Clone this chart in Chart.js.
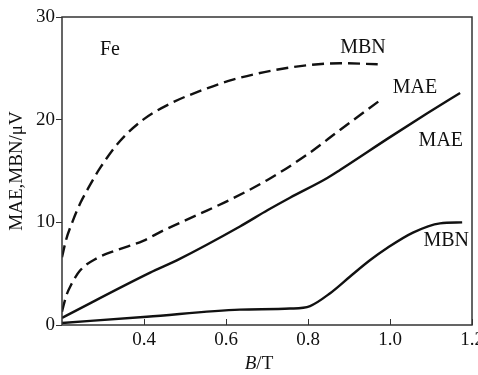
<!DOCTYPE html>
<html>
<head>
<meta charset="utf-8">
<script src="https://cdn.jsdelivr.net/npm/chart.js@4/dist/chart.umd.min.js"></script>
<style>
html,body{margin:0;padding:0;background:#fff;}
canvas{display:block;}
#fl{position:absolute;left:-999px;top:0;font-family:"Liberation Serif";font-size:20px;}
#fl i{font-style:italic;}
</style>
</head>
<body>
<div id="fl">Fe MBN MAE 0.4 <i>B</i>/T μV</div>
<canvas id="c" width="478" height="375"></canvas>
<script>
// B / T values and signal values (µV)
const mbnDashedX = [0.2, 0.21, 0.225, 0.245, 0.265, 0.293, 0.341, 0.398, 0.471, 0.537, 0.617, 0.715, 0.798, 0.878, 0.97];
const mbnDashedY = [6.6, 8.3, 10.0, 11.9, 13.4, 15.3, 17.9, 20.0, 21.7, 22.8, 23.9, 24.8, 25.3, 25.5, 25.4];

const maeDashedX = [0.2, 0.21, 0.222, 0.244, 0.285, 0.334, 0.398, 0.447, 0.529, 0.61, 0.70, 0.798, 0.878, 0.983];
const maeDashedY = [1.3, 2.8, 3.9, 5.3, 6.5, 7.3, 8.2, 9.2, 10.7, 12.2, 14.1, 16.6, 19.0, 22.1];

const maeSolidX = [0.2, 0.415, 0.48, 0.634, 0.702, 0.756, 0.846, 0.878, 1.0, 1.09, 1.171];
const maeSolidY = [0.7, 5.1, 6.3, 9.6, 11.2, 12.4, 14.3, 15.1, 18.3, 20.6, 22.6];

const mbnSolidX = [0.2, 0.407, 0.634, 0.756, 0.805, 0.854, 0.902, 0.951, 0.993, 1.056, 1.122, 1.176];
const mbnSolidY = [0.2, 0.8, 1.5, 1.6, 1.85, 3.1, 4.7, 6.3, 7.5, 9.0, 9.9, 10.0];

const xTicks = [0.4, 0.6, 0.8, 1.0, 1.2];
const yTicks = [0, 10, 20, 30];

const noteTexts = ['Fe', 'MBN', 'MAE', 'MAE', 'MBN'];
const noteX = [0.317, 0.934, 1.061, 1.124, 1.137];
const noteY = [26.8, 27.0, 23.1, 17.9, 8.2];

const xTitleItalic = 'B';
const xTitleRest = '/T';
const yTitle = 'MAE,MBN/μV';

const pts = (xs, ys) => xs.map((x, i) => ({x: x, y: ys[i]}));
const serif = '"Liberation Serif", "DejaVu Serif", serif';

const lineDs = (label, xs, ys, dash) => ({
  label: label,
  data: pts(xs, ys),
  borderColor: '#111',
  borderWidth: 2.4,
  borderDash: dash,
  pointRadius: 0,
  fill: false,
  showLine: true,
  cubicInterpolationMode: 'monotone'
});

const framePlugin = {
  id: 'frame',
  afterDatasetsDraw(chart) {
    const ctx = chart.ctx, a = chart.chartArea;
    const xs = chart.scales.x, ys = chart.scales.y;
    ctx.save();
    ctx.strokeStyle = '#333';
    ctx.lineWidth = 1.5;
    ctx.strokeRect(a.left, a.top, a.right - a.left, a.bottom - a.top);
    // inward ticks on x axis
    ctx.lineWidth = 1;
    xTicks.forEach(v => {
      const px = Math.round(xs.getPixelForValue(v)) + 0.5;
      ctx.beginPath();
      ctx.moveTo(px, a.bottom);
      ctx.lineTo(px, a.bottom - 6);
      ctx.stroke();
    });
    // annotations
    ctx.fillStyle = '#111';
    ctx.font = '20px ' + serif;
    ctx.textAlign = 'center';
    ctx.textBaseline = 'middle';
    noteTexts.forEach((t, i) => {
      ctx.fillText(t, xs.getPixelForValue(noteX[i]), ys.getPixelForValue(noteY[i]));
    });
    // x axis title with italic B
    const cx = (a.left + a.right) / 2 - 8;
    const ty = 364;
    ctx.textAlign = 'left';
    ctx.font = 'italic 19px ' + serif;
    const w1 = ctx.measureText(xTitleItalic).width;
    ctx.font = '19px ' + serif;
    const w2 = ctx.measureText(xTitleRest).width;
    const x0 = cx - (w1 + w2) / 2;
    ctx.font = 'italic 19px ' + serif;
    ctx.fillText(xTitleItalic, x0, ty);
    ctx.font = '19px ' + serif;
    ctx.fillText(xTitleRest, x0 + w1, ty);
    ctx.restore();
  }
};

function build() {
  new Chart(document.getElementById('c'), {
    type: 'scatter',
    data: {
      datasets: [
        lineDs('MBN dashed', mbnDashedX, mbnDashedY, [12, 6]),
        lineDs('MAE dashed', maeDashedX, maeDashedY, [12, 6]),
        lineDs('MAE', maeSolidX, maeSolidY, []),
        lineDs('MBN', mbnSolidX, mbnSolidY, [])
      ]
    },
    options: {
      responsive: false,
      animation: false,
      layout: {padding: {left: 0, right: 6, top: 17, bottom: 0}},
      plugins: {legend: {display: false}, tooltip: {enabled: false}},
      scales: {
        x: {
          type: 'linear',
          min: 0.2,
          max: 1.2,
          afterBuildTicks(s) { s.ticks = [0.2].concat(xTicks).map(v => ({value: v})); },
          afterFit(s) { s.height = 50; s.paddingRight = 0; s.paddingLeft = 0; },
          grid: {display: false, drawTicks: false},
          border: {display: false},
          ticks: {
            padding: 4,
            color: '#111',
            font: {family: serif, size: 19},
            maxRotation: 0,
            autoSkip: false,
            callback: v => Math.abs(v - 0.2) < 1e-6 ? '' : v.toFixed(1)
          },
          title: {display: false}
        },
        y: {
          type: 'linear',
          min: 0,
          max: 30,
          afterBuildTicks(s) { s.ticks = yTicks.map(v => ({value: v})); },
          afterFit(s) { s.width = 62; },
          grid: {drawOnChartArea: false, drawTicks: true, tickLength: 6, color: '#333', lineWidth: 1},
          border: {display: false},
          ticks: {
            padding: 1,
            color: '#111',
            font: {family: serif, size: 19}
          },
          title: {
            display: true,
            text: yTitle,
            color: '#111',
            font: {family: serif, size: 19, lineHeight: 1.2},
            padding: {top: 6, bottom: 0}
          }
        }
      }
    },
    plugins: [framePlugin]
  });
}

const fontLoads = document.fonts ? Promise.all([
  document.fonts.load('19px "Liberation Serif"'),
  document.fonts.load('italic 19px "Liberation Serif"')
]).catch(() => null) : Promise.resolve();
fontLoads.then(build, build);
</script>
</body>
</html>
